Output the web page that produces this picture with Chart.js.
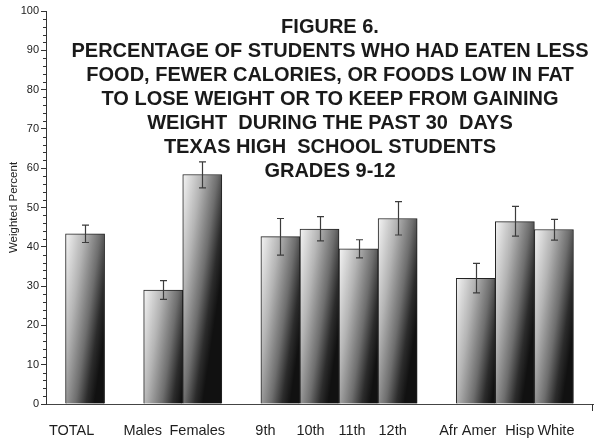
<!DOCTYPE html>
<html>
<head>
<meta charset="utf-8">
<script src="https://cdn.jsdelivr.net/npm/chart.js@4/dist/chart.umd.min.js"></script>
<style>
    html, body { margin: 0; padding: 0; background: #fff; }
    canvas { display: block; }
</style>
</head>
<body>
<canvas id="fig6" width="594" height="441"></canvas>
<script>
// blank entries are the spacer slots between groups
const categories = ['TOTAL', '', 'Males', 'Females', '', '9th', '10th', '11th', '12th', '', 'Afr Amer', 'Hisp', 'White'];
const percent = [43.3, null, 29.0, 58.4, null, 42.6, 44.5, 39.5, 47.2, null, 32.0, 46.4, 44.4];
const ciLow = [41.1, null, 26.6, 55.0, null, 37.9, 41.5, 37.2, 43.0, null, 28.3, 42.7, 41.7];
const ciHigh = [45.5, null, 31.4, 61.6, null, 47.2, 47.7, 41.8, 51.5, null, 35.8, 50.3, 47.0];
const yTicks = [0, 10, 20, 30, 40, 50, 60, 70, 80, 90, 100];

const titleLines = [
    'FIGURE 6.',
    'PERCENTAGE OF STUDENTS WHO HAD EATEN LESS',
    'FOOD, FEWER CALORIES, OR FOODS LOW IN FAT',
    'TO LOSE WEIGHT OR TO KEEP FROM GAINING',
    'WEIGHT  DURING THE PAST 30  DAYS',
    'TEXAS HIGH  SCHOOL STUDENTS',
    'GRADES 9-12',
];

// the category labels sit a little off-centre under their bars
const labelNudge = [-13.5, 0, -20.5, -5, 0, -15, -9, -6.5, -5, 0, -8, 5, 2];

const FONT = "'Liberation Sans', Arial, sans-serif";


function barGradient(context) {
    const chart = context.chart;
    const {ctx, chartArea, scales} = chart;
    if (!chartArea || context.type !== 'data' || percent[context.dataIndex] == null) {
        return '#888';
    }
    const slot = scales.x.getPixelForValue(1) - scales.x.getPixelForValue(0);
    const left = scales.x.getPixelForValue(context.dataIndex) - slot / 2;
    const top = scales.y.getPixelForValue(percent[context.dataIndex]);
    // light upper-left corner fading to near black at the lower right
    const g = ctx.createLinearGradient(left, top, left + 1.35 * slot, top + 0.2 * slot);
    g.addColorStop(0, '#f4f4f4');
    g.addColorStop(0.35, '#b4b4b4');
    g.addColorStop(0.65, '#6e6e6e');
    g.addColorStop(0.85, '#2c2c2c');
    g.addColorStop(1, '#111');
    return g;
}


const errorBars = {
    id: 'error-bars',
    afterDatasetsDraw(chart) {
        const {ctx, scales} = chart;
        ctx.save();
        ctx.strokeStyle = '#3c3c3c';
        ctx.lineWidth = 1.2;
        percent.forEach((v, i) => {
            if (v == null) return;
            const x = Math.round(scales.x.getPixelForValue(i)) + 0.5;
            const hi = scales.y.getPixelForValue(ciHigh[i]);
            const lo = scales.y.getPixelForValue(ciLow[i]);
            ctx.beginPath();
            ctx.moveTo(x, hi);
            ctx.lineTo(x, lo);
            ctx.moveTo(x - 3.5, hi);
            ctx.lineTo(x + 3.5, hi);
            ctx.moveTo(x - 3.5, lo);
            ctx.lineTo(x + 3.5, lo);
            ctx.stroke();
        });
        ctx.restore();
    }
};


const decorations = {
    id: 'decorations',
    afterDraw(chart) {
        const {ctx, chartArea, scales} = chart;
        ctx.save();

        // minor ticks every 2 units on the value axis
        ctx.strokeStyle = '#333';
        ctx.lineWidth = 1;
        ctx.beginPath();
        for (let v = 2; v < 100; v += 2) {
            if (v % 10 === 0) continue;
            const y = Math.round(scales.y.getPixelForValue(v)) + 0.5;
            ctx.moveTo(chartArea.left - 3, y);
            ctx.lineTo(chartArea.left, y);
        }
        // closing tick at the right end of the category axis
        const xr = Math.round(chartArea.right) - 0.5;
        ctx.moveTo(xr, chartArea.bottom);
        ctx.lineTo(xr, chartArea.bottom + 7);
        ctx.stroke();

        // category labels
        ctx.fillStyle = '#1e1e1e';
        ctx.font = '14.5px ' + FONT;
        ctx.textAlign = 'center';
        ctx.textBaseline = 'middle';
        categories.forEach((c, i) => {
            if (!c) return;
            ctx.fillText(c, scales.x.getPixelForValue(i) + labelNudge[i], 431);
        });

        // heading block over the plot
        ctx.fillStyle = '#1a1a1a';
        ctx.font = 'bold 20px ' + FONT;
        ctx.textBaseline = 'alphabetic';
        titleLines.forEach((line, i) => {
            ctx.fillText(line, 330, 33 + 24 * i);
        });

        ctx.restore();
    }
};


new Chart(document.getElementById('fig6'), {
    type: 'bar',
    data: {
        datasets: [{
            data: percent.map((v, i) => ({x: i, y: v})),
            backgroundColor: barGradient,
            borderColor: '#222',
            borderWidth: 1,
            borderSkipped: 'bottom',
            barPercentage: 1,
            categoryPercentage: 1,
        }]
    },
    options: {
        responsive: false,
        animation: false,
        events: [],
        layout: {
            padding: {top: 11, right: 1, bottom: 0, left: 0}
        },
        plugins: {
            legend: {display: false},
            tooltip: {enabled: false},
        },
        scales: {
            x: {
                type: 'linear',
                // half a slot of air before the first bar and after the last
                min: -1,
                max: categories.length,
                offset: false,
                grid: {display: false},
                border: {display: true, color: '#444', width: 1},
                ticks: {display: false},
                afterFit(scale) {
                    scale.height = 37;
                },
            },
            y: {
                min: 0,
                max: 100,
                afterBuildTicks(scale) {
                    scale.ticks = yTicks.map(v => ({value: v}));
                },
                grid: {
                    drawOnChartArea: false,
                    drawTicks: true,
                    tickLength: 5,
                    color: '#333',
                },
                border: {display: true, color: '#333', width: 1},
                ticks: {
                    color: '#222',
                    padding: 2,
                    font: {family: FONT, size: 11},
                },
                title: {
                    display: true,
                    text: 'Weighted Percent',
                    color: '#222',
                    font: {family: FONT, size: 11.5},
                    padding: {top: 7, bottom: 0},
                },
                afterFit(scale) {
                    scale.width = 46;
                },
            }
        }
    },
    plugins: [errorBars, decorations],
});
</script>
</body>
</html>
